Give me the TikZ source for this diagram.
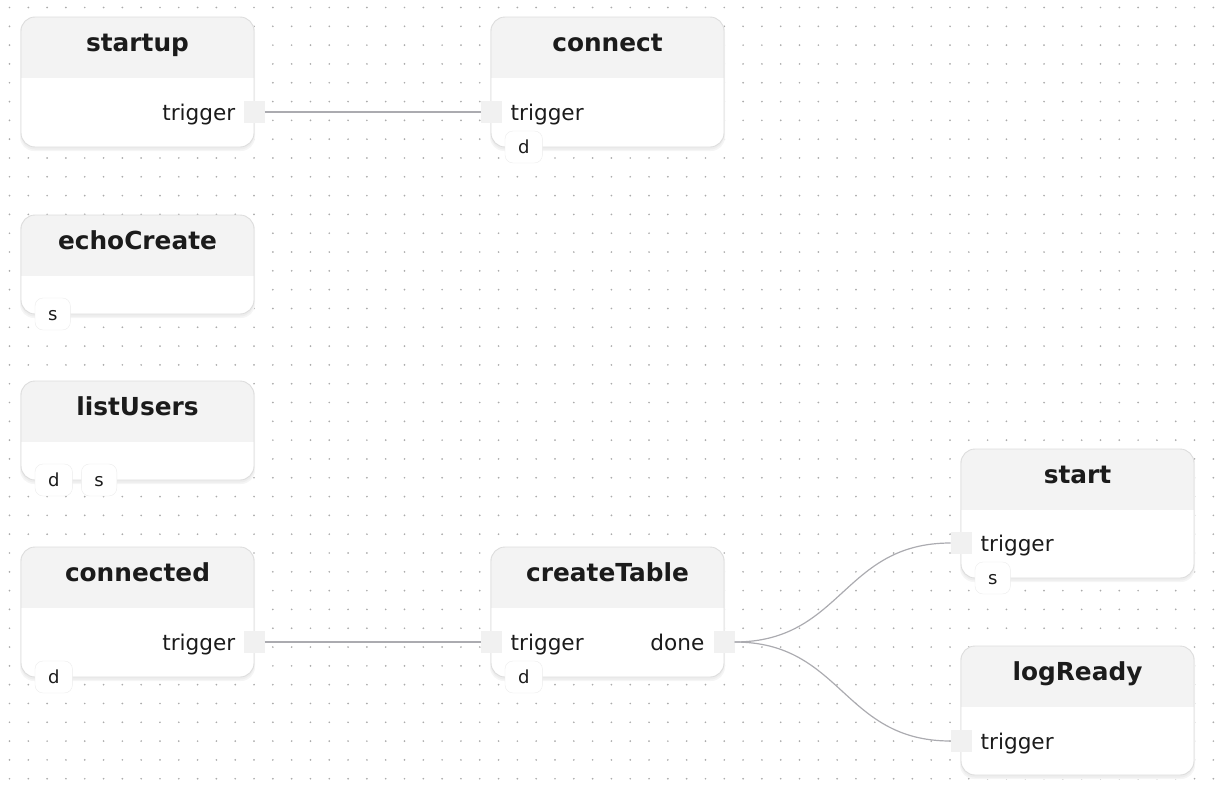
\documentclass[tikz,border=0pt]{standalone}
\usepackage{fontspec}
\setmainfont{DejaVu Sans}
\usetikzlibrary{positioning}
\definecolor{cabecera}{HTML}{F3F3F3}
\definecolor{borde}{HTML}{DDDDDD}
\definecolor{puerto}{HTML}{F1F1F1}
\definecolor{linea}{HTML}{ABABB0}
\definecolor{texto}{HTML}{1B1B1B}
\definecolor{punto}{HTML}{ABABAB}

\begin{document}
\begin{tikzpicture}[x=1pt,y=-1pt,
    caja/.style={rectangle,inner sep=0pt,outer sep=0pt,minimum width=233pt},
    titulo/.style={font=\fontsize{24.8}{28}\selectfont\bfseries,text=texto,anchor=base,inner sep=0pt},
    etiqueta/.style={font=\fontsize{21.6}{26}\selectfont,text=texto,inner sep=0pt},
    puertobox/.style={fill=puerto,minimum width=21pt,minimum height=22pt,inner sep=0pt,outer sep=0pt},
    insignia/.style={draw=borde!55,fill=white,rounded corners=8pt,minimum height=32pt,inner xsep=13pt,inner ysep=0pt,outer sep=0pt,
      font=\fontsize{18}{21}\selectfont,text=texto,text height=13.4pt,text depth=0pt},
    conexion/.style={draw=linea,line width=1.2pt}]
    \useasboundingbox (0,0) rectangle (1225,787);

    % Fondo de puntos
    \foreach \i in {0,...,64}
        \foreach \j in {0,...,41}
            \fill[punto] (9.5+18.81*\i,7.5+18.81*\j) circle (0.95);

    % Tarjetas
    \foreach \n/\x/\y/\h/\t in {startup/21/17/130/startup, connect/491/17/130/connect,
        echoCreate/21/215/99/echoCreate, listUsers/21/381/99/listUsers,
        connected/21/547/130/connected, createTable/491/547/130/createTable,
        start/961/449/129/start, logReady/961/646/129/logReady}{
        \fill[black!4,rounded corners=14pt] (\x-1,\y+1) rectangle ++(235,\h+3);
        \fill[black!7,rounded corners=14pt] (\x,\y+1) rectangle ++(233,\h+1.5);
        \node[caja,minimum height=\h pt,anchor=north west] (\n) at (\x,\y) {};
        \fill[white,rounded corners=14pt] (\n.north west) rectangle (\n.south east);
        \begin{scope}
            \clip[rounded corners=14pt] (\n.north west) rectangle (\n.south east);
            \fill[cabecera] (\n.north west) rectangle ([yshift=-61pt]\n.north east);
        \end{scope}
        \draw[borde,line width=0.9pt,rounded corners=14pt] (\n.north west) rectangle (\n.south east);
        \node[titulo] (\n-titulo) at ([yshift=-34pt]\n.north) {\t};
    }

    % Puertos de salida
    \node[puertobox] (startup-trigger) at ([yshift=-95pt]startup.north east) {};
    \node[puertobox] (connected-trigger) at ([yshift=-95pt]connected.north east) {};
    \node[puertobox] (createTable-done) at ([yshift=-95pt]createTable.north east) {};
    \node[etiqueta,anchor=base east] (startup-trigger-txt) at ([xshift=-8pt,yshift=-8pt]startup-trigger.west) {trigger};
    \node[etiqueta,anchor=base east] (connected-trigger-txt) at ([xshift=-8pt,yshift=-8pt]connected-trigger.west) {trigger};
    \node[etiqueta,anchor=base east] (createTable-done-txt) at ([xshift=-9pt,yshift=-8pt]createTable-done.west) {done};

    % Puertos de entrada
    \node[puertobox] (connect-trigger) at ([yshift=-95pt]connect.north west) {};
    \node[puertobox] (createTable-trigger) at ([yshift=-95pt]createTable.north west) {};
    \node[puertobox] (start-trigger) at ([yshift=-94pt]start.north west) {};
    \node[puertobox] (logReady-trigger) at ([yshift=-95pt]logReady.north west) {};
    \node[etiqueta,anchor=base west] (connect-trigger-txt) at ([xshift=9pt,yshift=-8pt]connect-trigger.east) {trigger};
    \node[etiqueta,anchor=base west] (createTable-trigger-txt) at ([xshift=9pt,yshift=-8pt]createTable-trigger.east) {trigger};
    \node[etiqueta,anchor=base west] (start-trigger-txt) at ([xshift=9pt,yshift=-8pt]start-trigger.east) {trigger};
    \node[etiqueta,anchor=base west] (logReady-trigger-txt) at ([xshift=9pt,yshift=-8pt]logReady-trigger.east) {trigger};

    % Conexiones
    \draw[conexion] (startup-trigger) -- (connect-trigger);
    \draw[conexion] (connected-trigger) -- (createTable-trigger);
    \draw[conexion] (createTable-done.east) .. controls +(108,0) and +(-108,0) .. (start-trigger.west);
    \draw[conexion] (createTable-done.east) .. controls +(108,0) and +(-108,0) .. (logReady-trigger.west);

    % Insignias
    \node[insignia,anchor=west] (connect-d) at ([xshift=14pt]connect.south west) {d};
    \node[insignia,anchor=west] (echoCreate-s) at ([xshift=14pt]echoCreate.south west) {s};
    \node[insignia,anchor=west] (listUsers-d) at ([xshift=14pt]listUsers.south west) {d};
    \node[insignia,right=9pt of listUsers-d] (listUsers-s) {s};
    \node[insignia,anchor=west] (connected-d) at ([xshift=14pt]connected.south west) {d};
    \node[insignia,anchor=west] (createTable-d) at ([xshift=14pt]createTable.south west) {d};
    \node[insignia,anchor=west] (start-s) at ([xshift=14pt]start.south west) {s};
\end{tikzpicture}
\end{document}
